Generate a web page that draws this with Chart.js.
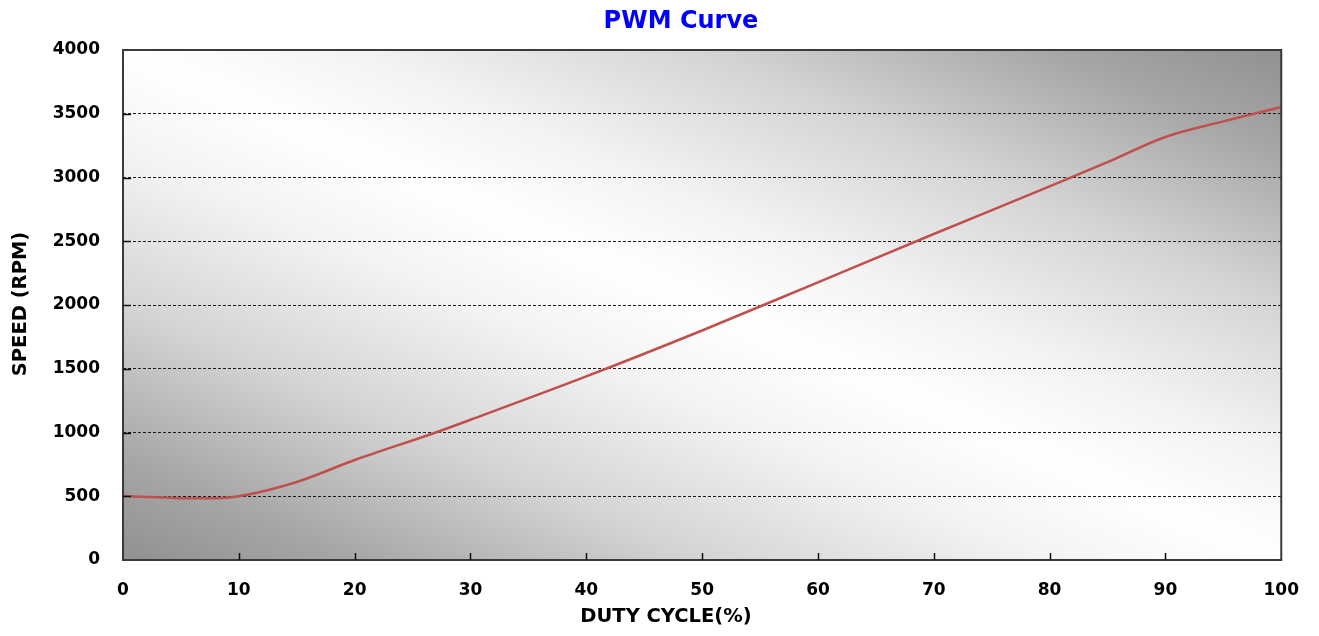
<!DOCTYPE html>
<html>
<head>
<meta charset="utf-8">
<script src="https://cdn.jsdelivr.net/npm/chart.js@4/dist/chart.umd.min.js"></script>
<style>
  html, body { margin: 0; padding: 0; background: #fff; }
  #wrap { width: 1319px; height: 636px; position: relative; }
</style>
</head>
<body>
<div id="wrap"><canvas id="pwm"></canvas></div>
<script>
// duty cycle (%) and fan speed (RPM)
const dutyCycle = [0, 3, 5, 8, 10, 15, 20, 27, 30, 40, 50, 60, 70, 80, 85, 90, 95, 100];
const speedRpm = [502, 492, 485, 484, 500, 612, 784, 1000, 1100, 1440, 1800, 2178, 2557, 2930, 3120, 3318, 3440, 3553];
const xTicks = [0, 10, 20, 30, 40, 50, 60, 70, 80, 90, 100];
const yTicks = [0, 500, 1000, 1500, 2000, 2500, 3000, 3500, 4000];

const chartTitle = 'PWM Curve';
const xTitle = 'DUTY CYCLE(%)';
const yTitle = 'SPEED (RPM)';

const points = dutyCycle.map((d, i) => ({ x: d, y: speedRpm[i] }));
const labelFont = { family: 'DejaVu Sans', size: 17, weight: 'bold' };

// gradient plot background, frame, inward ticks and the titles
const plotDecor = {
    id: 'plotDecor',
    beforeDraw(chart) {
        const { ctx, chartArea: a } = chart;
        const w = a.right - a.left, h = a.bottom - a.top;
        const cx = (a.left + a.right) / 2, cy = (a.top + a.bottom) / 2;
        const s = w * h / (w * w + h * h);
        const g = ctx.createLinearGradient(cx - s * h, cy + s * w, cx + s * h, cy - s * w);
        g.addColorStop(0, '#919191');
        g.addColorStop(0.1, '#a6a6a6');
        g.addColorStop(0.25, '#d4d4d4');
        g.addColorStop(0.4, '#f3f3f3');
        g.addColorStop(0.5, '#ffffff');
        g.addColorStop(0.6, '#f3f3f3');
        g.addColorStop(0.75, '#d4d4d4');
        g.addColorStop(0.9, '#a6a6a6');
        g.addColorStop(1, '#919191');
        ctx.save();
        ctx.fillStyle = g;
        ctx.fillRect(a.left, a.top, w, h);
        ctx.restore();
    },
    afterDraw(chart) {
        const { ctx, chartArea: a } = chart;
        const xs = chart.scales.x, ys = chart.scales.y;
        ctx.save();
        ctx.strokeStyle = '#3a3a3a';
        ctx.lineWidth = 2;
        ctx.strokeRect(a.left, a.top, a.right - a.left, a.bottom - a.top);
        ctx.strokeStyle = '#111';
        ctx.lineWidth = 1.5;
        ctx.beginPath();
        xTicks.slice(1, -1).forEach(t => {
            const px = Math.round(xs.getPixelForValue(t)) + 0.5;
            ctx.moveTo(px, a.bottom);
            ctx.lineTo(px, a.bottom - 7);
        });
        yTicks.slice(1, -1).forEach(t => {
            const py = Math.round(ys.getPixelForValue(t)) + 0.5;
            ctx.moveTo(a.left, py);
            ctx.lineTo(a.left + 8, py);
        });
        ctx.stroke();

        ctx.textAlign = 'center';
        ctx.textBaseline = 'middle';
        ctx.fillStyle = '#0000ff';
        ctx.font = 'bold 24px "DejaVu Sans"';
        ctx.fillText(chartTitle, 681, 22);
        ctx.fillStyle = '#000';
        ctx.font = 'bold 19.5px "DejaVu Sans"';
        ctx.fillText(xTitle, 666, 617);
        ctx.translate(21, 304);
        ctx.rotate(-Math.PI / 2);
        ctx.fillText(yTitle, 0, 0);
        ctx.restore();
    }
};

const ctx = document.getElementById('pwm').getContext('2d');
const pwmChart = new Chart(ctx, {
    type: 'line',
    data: {
        datasets: [{
            label: 'Speed',
            data: points,
            borderColor: 'rgb(192, 80, 77)',
            borderWidth: 2.5,
            pointRadius: 0,
            fill: false,
            cubicInterpolationMode: 'monotone'
        }]
    },
    options: {
        responsive: true,
        maintainAspectRatio: false,
        animation: false,
        layout: { padding: { left: 0, right: 30, top: 50, bottom: 0 } },
        plugins: {
            legend: { display: false },
            tooltip: { enabled: false },
            title: { display: false }
        },
        scales: {
            x: {
                type: 'linear',
                min: 0,
                max: 100,
                afterBuildTicks: s => { s.ticks = xTicks.map(v => ({ value: v })); },
                afterFit: s => { s.height = 76; },
                grid: { display: false, drawTicks: false },
                border: { display: false },
                ticks: { color: '#000', font: labelFont, padding: 20, maxRotation: 0, callback: v => String(v) }
            },
            y: {
                min: 0,
                max: 4000,
                afterBuildTicks: s => { s.ticks = yTicks.map(v => ({ value: v })); },
                afterFit: s => { s.width = 123; },
                grid: {
                    drawTicks: false,
                    color: c => (c.tick.value === 0 || c.tick.value === 4000) ? 'rgba(0,0,0,0)' : '#1a1a1a',
                    lineWidth: 1
                },
                border: { display: false, dash: [3, 2] },
                ticks: { color: '#000', font: labelFont, padding: 23, callback: v => String(v) }
            }
        }
    },
    plugins: [plotDecor]
});
</script>
</body>
</html>
